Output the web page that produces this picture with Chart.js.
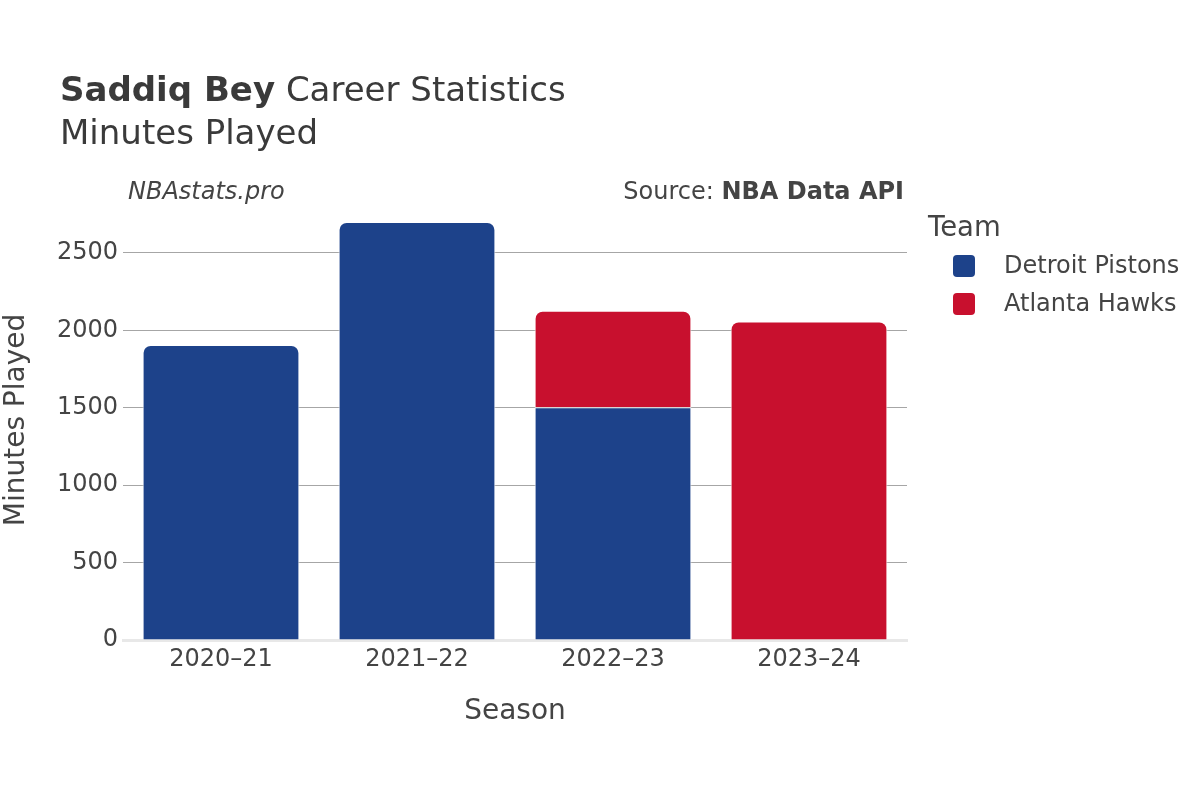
<!doctype html>
<html>
<head>
	<title>Saddiq Bey Career Statistics</title>
	<script src="https://cdn.jsdelivr.net/npm/chart.js@4"></script>
	<style>
		body { margin: 0; background: #fff; }
		#holder { width: 1200px; height: 800px; }
	</style>
</head>
<body>
	<div id="holder">
		<canvas id="chart-area" width="1200" height="800"></canvas>
	</div>
	<script>
		// data
		var seasons = ['2020\u201321', '2021\u201322', '2022\u201323', '2023\u201324'];
		var detroitMinutes = [1905, 2700, 1504, null];
		var atlantaMinutes = [null, null, 623, 2058];
		var teams = ['Detroit Pistons', 'Atlanta Hawks'];
		var teamColors = ['#1D428A', '#C8102E'];
		var yTicks = [0, 500, 1000, 1500, 2000, 2500];

		var FONT = "'DejaVu Sans', sans-serif";
		var TEXT = '#444';

		// titles, source line and legend drawn on the canvas
		var decorations = {
			id: 'decorations',
			afterDraw: function(chart) {
				var ctx = chart.ctx;
				ctx.save();
				ctx.fillStyle = '#3a3a3a';
				ctx.textBaseline = 'alphabetic';
				ctx.textAlign = 'left';

				ctx.font = 'bold 34px ' + FONT;
				ctx.fillText('Saddiq Bey', 60, 101);
				var w = ctx.measureText('Saddiq Bey').width;
				ctx.font = '34px ' + FONT;
				ctx.fillText(' Career Statistics', 60 + w, 101);
				ctx.fillText('Minutes Played', 60, 144);

				ctx.fillStyle = TEXT;
				ctx.font = 'italic 24px ' + FONT;
				ctx.fillText('NBAstats.pro', 128, 199);

				ctx.textAlign = 'right';
				ctx.font = 'bold 24px ' + FONT;
				ctx.fillText('NBA Data API', 904, 199);
				var sw = ctx.measureText('NBA Data API').width;
				ctx.font = '24px ' + FONT;
				ctx.fillText('Source: ', 904 - sw, 199);

				// legend
				ctx.textAlign = 'left';
				ctx.font = '27.5px ' + FONT;
				ctx.fillText('Team', 928, 236);
				ctx.font = '24px ' + FONT;
				ctx.textBaseline = 'middle';
				chart.data.datasets.forEach(function(ds, i) {
					var cy = 266 + i * 38;
					ctx.fillStyle = ds.backgroundColor;
					ctx.beginPath();
					ctx.roundRect(953, cy - 11, 22, 22, 4);
					ctx.fill();
					ctx.fillStyle = TEXT;
					ctx.fillText(ds.label, 1004, cy + 1);
				});
				ctx.restore();
			}
		};

		var config = {
			type: 'bar',
			data: {
				labels: seasons,
				datasets: [{
					label: teams[0],
					data: detroitMinutes,
					backgroundColor: teamColors[0],
					borderColor: '#ffffff',
					borderWidth: 1,
					borderRadius: 8
				}, {
					label: teams[1],
					data: atlantaMinutes,
					backgroundColor: teamColors[1],
					borderColor: '#ffffff',
					borderWidth: 1,
					borderRadius: 8
				}]
			},
			options: {
				responsive: false,
				animation: false,
				devicePixelRatio: 1,
				layout: { padding: { top: 200, right: 293, bottom: 0, left: 0 } },
				datasets: { bar: { categoryPercentage: 1, barPercentage: 0.8 } },
				plugins: {
					legend: { display: false },
					tooltip: { enabled: false }
				},
				scales: {
					x: {
						stacked: true,
						afterFit: function(scale) { scale.height = 160; },
						grid: { display: false, drawTicks: false },
						border: { display: true, color: '#e8e8e8', width: 3 },
						ticks: { color: TEXT, font: { family: FONT, size: 24 }, padding: 5, maxRotation: 0 },
						title: { display: true, text: 'Season', color: TEXT, font: { family: FONT, size: 28 }, padding: { top: 0, bottom: 71 } }
					},
					y: {
						stacked: true,
						min: 0,
						max: 2842,
						afterFit: function(scale) { scale.width = 123; },
						afterBuildTicks: function(scale) {
							scale.ticks = yTicks.map(function(v) { return { value: v }; });
						},
						grid: {
							drawTicks: false,
							color: function(c) { return c.tick && c.tick.value === 0 ? 'rgba(0,0,0,0)' : '#a6a6a6'; },
							lineWidth: 1
						},
						border: { display: false },
						ticks: {
							color: TEXT,
							font: { family: FONT, size: 24 },
							padding: 5,
							callback: function(v) { return String(v); }
						},
						title: { display: true, text: 'Minutes Played', color: TEXT, font: { family: FONT, size: 28 }, padding: { top: 0, bottom: 0 } }
					}
				}
			},
			plugins: [decorations]
		};

		window.onload = function() {
			var ctx = document.getElementById('chart-area').getContext('2d');
			window.myBar = new Chart(ctx, config);
		};
	</script>
</body>
</html>
